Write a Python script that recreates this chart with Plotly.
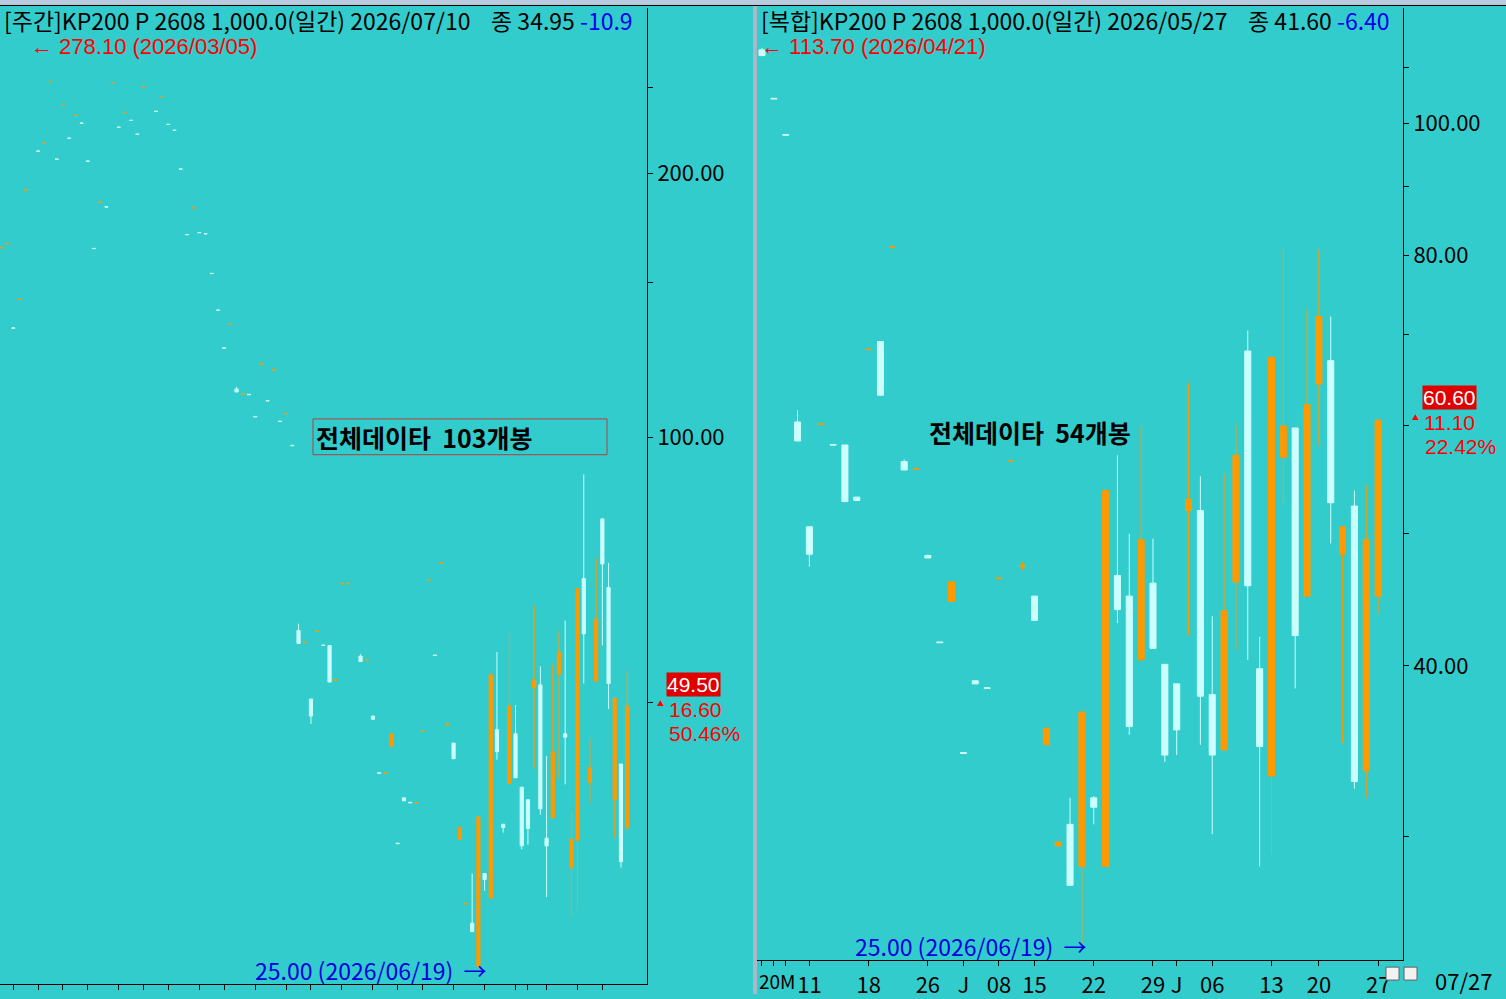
import plotly.graph_objects as go

W, H = 1506, 999
BG = '#33CCCC'
UP = '#FF9900'
DOWN = '#CCFFFF'
FONT = 'Noto Sans CJK KR, Noto Sans, sans-serif'
NUM_FONT = 'Liberation Sans, Arial, sans-serif'

# ---- 주간 (left panel), 102 slots, None = no bar
w_open = [164.4, 166.1, 133.3, 143.6, 191.2, None, 211.9, 216.2, 254.1, 207.5,
          238.7, 219.2, 232.5, 228.0, 206.4, 164.2, 185.3, 183.1, 253.4, 225.6,
          234.4, 229.7, 221.5, 250.8, None, 235.2, 244.4, 227.3, 223.8, 202.2,
          170.3, 182.5, 171.2, 170.7, 153.8, 139.7, 126.5, 134.5, 113.6, 112.0,
          112.0, 105.7, 121.2, 110.2, 119.3, 104.4, 106.4, 98.0, 60.3, 58.45,
          50.4, 60.15, 58.05, 58.0, 52.95, 68.15, 68.15, None, 56.4, 55.75,
          48.2, 41.55, 41.45, 44.5, 34.55, 38.9, 38.45, 38.35, 46.35, 68.85,
          56.55, 71.95, 47.1, 44.9, 34.9, 29.45, 28.0, 25.0, 31.9, 29.9,
          46.5, 36.3, 40.4, 46.0, 40.0, 38.7, 51.9, 52.3, 35.0, 36.9,
          53.8, 46.0, 32.4, 34.8, 69.1, 40.5, 52.8, 80.8, 67.5, 38.7,
          42.5, 36.0]
w_high = [164.5, 166.2, 133.3, 143.7, 191.3, None, 211.9, 216.3, 254.2, 207.5,
          238.8, 219.2, 232.6, 228.0, 206.4, 164.2, 185.4, 183.1, 253.5, 225.6,
          234.5, 229.7, 221.5, 250.9, None, 235.2, 244.5, 227.3, 223.8, 202.2,
          170.3, 182.6, 171.2, 170.7, 153.8, 139.7, 126.5, 134.6, 114.2, 112.1,
          112.0, 105.7, 121.3, 110.2, 119.4, 104.4, 106.5, 98.0, 61.4, 58.5,
          50.4, 60.2, 58.05, 58.0, 53.0, 68.2, 68.2, None, 56.7, 55.8,
          48.2, 41.55, 41.5, 46.0, 34.55, 38.9, 38.45, 38.4, 46.4, 68.9,
          56.55, 72.0, 47.5, 44.9, 36.0, 29.5, 31.9, 37.0, 31.9, 53.9,
          57.0, 36.3, 60.0, 49.6, 40.0, 38.7, 64.4, 54.9, 43.4, 55.2,
          60.2, 61.9, 37.6, 67.3, 90.8, 45.4, 72.9, 81.0, 72.0, 50.5,
          42.5, 54.2]
w_low = [164.4, 166.1, 133.2, 143.6, 191.2, None, 211.8, 216.2, 254.1, 207.4,
         238.7, 219.1, 232.5, 227.9, 206.3, 164.1, 185.3, 183.0, 253.4, 225.5,
         234.4, 229.6, 221.4, 250.8, None, 235.1, 244.4, 227.2, 223.7, 202.1,
         170.2, 182.5, 171.1, 170.6, 153.7, 139.6, 126.4, 134.5, 112.7, 112.0,
         111.9, 105.6, 121.2, 110.1, 119.3, 104.3, 106.4, 97.9, 58.3, 58.45,
         47.2, 60.15, 58.0, 52.7, 52.95, 68.15, 68.15, None, 55.6, 55.75,
         47.8, 41.5, 41.45, 44.5, 34.5, 38.6, 38.4, 38.35, 46.35, 68.85,
         56.5, 71.95, 46.9, 43.1, 34.9, 29.45, 27.4, 25.0, 30.5, 29.9,
         43.0, 35.5, 40.4, 41.0, 34.0, 34.4, 42.0, 37.2, 30.0, 36.9,
         40.9, 40.3, 28.5, 29.0, 52.5, 38.4, 52.8, 58.0, 49.1, 35.0,
         32.4, 35.7]
w_close = [164.5, 166.2, 133.2, 143.7, 191.3, None, 211.8, 216.3, 254.2, 207.4,
           238.8, 219.1, 232.6, 227.9, 206.3, 164.1, 185.4, 183.0, 253.5, 225.5,
           234.5, 229.6, 221.4, 250.9, None, 235.1, 244.5, 227.2, 223.7, 202.1,
           170.2, 182.6, 171.1, 170.6, 153.7, 139.6, 126.4, 134.6, 112.7, 112.1,
           111.9, 105.6, 121.3, 110.1, 119.4, 104.3, 106.5, 97.9, 58.3, 58.5,
           48.2, 60.2, 58.0, 52.7, 53.0, 68.2, 68.2, None, 55.6, 55.8,
           47.8, 41.5, 41.5, 46.0, 34.5, 38.6, 38.4, 38.4, 46.4, 68.9,
           56.5, 72.0, 47.2, 43.1, 36.0, 29.5, 27.4, 37.0, 31.4, 53.7,
           43.9, 36.0, 49.5, 41.0, 34.3, 35.9, 53.0, 37.8, 34.3, 43.9,
           57.0, 45.6, 34.9, 67.3, 59.8, 42.1, 62.1, 71.8, 52.5, 50.5,
           32.9, 49.5]
w_idx = list(range(len(w_open)))
w_ticks = [2, 6, 10, 14, 19, 23, 27, 32, 36, 41, 46, 50, 55, 60, 64, 68, 73, 78, 83, 85, 88, 93, 97]

# ---- 복합 (right panel), 53 daily bars
d_open = [113.3, 104.4, 98.2, 60.4, 50.6, 60.15, 58.15, 58.1, 53.2, 68.25,
          69.2, 81.15, 56.5, 55.75, 48.2, 41.65, 44.6, 34.55, 39.0, 38.55,
          46.35, 56.55, 47.3, 45.0, 35.0, 29.5, 30.6, 28.5, 32.0, 28.5,
          46.6, 45.0, 40.4, 46.0, 40.1, 38.8, 52.0, 52.0, 38.1, 34.7,
          46.1, 68.1, 39.8, 33.2, 56.9, 59.8, 45.0, 64.4, 67.0, 48.3,
          52.4, 33.5, 45.0]
d_high = [113.7, 104.4, 98.2, 61.6, 50.6, 60.2, 58.15, 58.1, 53.2, 68.3,
          69.2, 81.2, 56.7, 55.8, 48.3, 41.65, 46.1, 34.55, 39.0, 38.55,
          46.4, 56.6, 47.7, 45.0, 36.0, 29.7, 32.0, 37.0, 32.1, 54.1,
          57.1, 50.0, 60.0, 49.6, 40.1, 38.8, 64.5, 55.1, 43.5, 55.4,
          60.2, 70.5, 42.0, 67.4, 81.2, 59.8, 73.1, 80.9, 72.2, 50.6,
          53.8, 54.3, 60.6]
d_low = [112.2, 104.3, 98.1, 58.5, 47.3, 60.15, 58.1, 52.8, 52.9, 68.25,
         63.2, 81.15, 55.7, 55.75, 48.0, 41.6, 44.6, 34.5, 38.8, 38.5,
         46.35, 56.55, 47.0, 43.2, 35.0, 29.5, 27.6, 25.0, 30.6, 28.5,
         43.0, 35.6, 40.4, 41.2, 34.0, 34.4, 42.1, 35.0, 30.1, 34.7,
         41.1, 40.4, 28.5, 29.1, 52.6, 38.5, 45.0, 58.0, 49.2, 35.1,
         32.5, 32.0, 43.7]
d_close = [112.2, 104.3, 98.1, 58.5, 48.3, 60.2, 58.1, 52.8, 52.9, 68.3,
           63.2, 81.2, 55.7, 55.8, 48.0, 41.6, 46.1, 34.5, 38.8, 38.5,
           46.4, 56.6, 47.4, 43.2, 36.0, 29.7, 27.6, 37.0, 31.5, 53.8,
           44.0, 36.1, 49.5, 41.2, 34.4, 35.9, 53.0, 38.0, 34.4, 43.9,
           57.1, 45.8, 34.9, 67.4, 60.0, 42.1, 62.2, 72.2, 52.7, 50.6,
           32.9, 49.5, 60.6]
d_idx = list(range(len(d_open)))
d_tickvals = [0, 1, 2, 4, 9, 14, 17, 20, 23, 28, 33, 35, 38, 43, 47, 52]
d_ticktext = ['', '', '', '11', '18', '26', 'J', '08', '15', '22', '29', 'J', '06', '13', '20', '27']


def px(x):
    return x / W


def py(y):
    return 1 - y / H


def candle(x, o, h, l, c, xa, ya):
    return go.Candlestick(
        x=x, open=o, high=h, low=l, close=c, xaxis=xa, yaxis=ya,
        increasing=dict(line=dict(color=UP, width=1), fillcolor=UP),
        decreasing=dict(line=dict(color=DOWN, width=1), fillcolor=DOWN),
        whiskerwidth=0, hoverinfo='skip', showlegend=False,
    )


fig = go.Figure()
fig.add_trace(candle(w_idx, w_open, w_high, w_low, w_close, 'x', 'y'))
fig.add_trace(candle(d_idx, d_open, d_high, d_low, d_close, 'x2', 'y2'))

axis_font = dict(family=FONT, size=22, color='black')

fig.update_layout(
    width=W, height=H,
    margin=dict(l=0, r=0, t=0, b=0),
    paper_bgcolor=BG, plot_bgcolor=BG,
    boxgap=0.27,
    font=dict(family=FONT),
    xaxis=dict(domain=[0, px(647)], range=[-0.15, 104.2], rangeslider=dict(visible=False),
               showgrid=False, zeroline=False, showline=True, linecolor='black', linewidth=1,
               ticks='outside', ticklen=5, tickcolor='black', tickvals=w_ticks,
               showticklabels=False, anchor='y'),
    yaxis=dict(domain=[py(989), py(8)], type='log', range=[1.378, 2.489], side='right',
               anchor='x', showgrid=False, zeroline=False, showline=True, linecolor='black',
               linewidth=1, ticks='outside', ticklen=5, tickcolor='black',
               tickvals=[50, 100, 150, 200, 250], ticktext=['', '100.00', '', '200.00', ''],
               tickfont=axis_font),
    xaxis2=dict(domain=[px(757), px(1403)], range=[-0.42, 54.1], rangeslider=dict(visible=False),
                showgrid=False, zeroline=False, showline=True, linecolor='black', linewidth=1,
                ticks='outside', ticklen=5, tickcolor='black', tickvals=d_tickvals,
                ticktext=d_ticktext, tickfont=axis_font, anchor='y2'),
    yaxis2=dict(domain=[py(965), py(8)], type='log', range=[1.386, 2.085], side='right',
                anchor='x2', showgrid=False, zeroline=False, showline=True, linecolor='black',
                linewidth=1, ticks='outside', ticklen=5, tickcolor='black',
                tickvals=[30, 40, 50, 60, 70, 80, 90, 100, 110],
                ticktext=['', '40.00', '', '', '', '80.00', '', '100.00', ''],
                tickfont=axis_font),
)

# window chrome: toolbar strip, panel separator, corner buttons
fig.add_shape(type='rect', xref='paper', yref='paper', x0=0, x1=1, y0=py(5), y1=1,
              fillcolor='#B8CCE0', line=dict(width=0), layer='above')
fig.add_shape(type='line', xref='paper', yref='paper', x0=0, x1=1, y0=py(5.5), y1=py(5.5),
              line=dict(color='black', width=1), layer='above')
fig.add_shape(type='rect', xref='paper', yref='paper', x0=px(753), x1=px(757), y0=0, y1=py(6),
              fillcolor='#A8B8C8', line=dict(width=0), layer='above')
for bx in (1386, 1404):
    fig.add_shape(type='rect', xref='paper', yref='paper', x0=px(bx), x1=px(bx + 13),
                  y0=py(985), y1=py(972), fillcolor='#F2F2F2', line=dict(color='#606060', width=1))
# box around the left "전체데이타" label
fig.add_shape(type='rect', xref='paper', yref='paper', x0=px(313), x1=px(607), y0=py(457), y1=py(421),
              line=dict(color='#B04040', width=1))


def ann(x, y, text, color='black', size=23, xanchor='left', bg=None, family=FONT):
    fig.add_annotation(x=px(x), y=py(y), xref='paper', yref='paper', text=text, showarrow=False,
                       xanchor=xanchor, yanchor='middle',
                       font=dict(family=family, size=size, color=color),
                       bgcolor=bg, borderpad=0)


NB = '\u00a0'
ann(3, 20, '[주간]KP200 P 2608 1,000.0(일간) 2026/07/10' + NB * 4 + '종 34.95 '
    "<span style='color:#0000EE'>-10.9</span>")
ann(760, 20, '[복합]KP200 P 2608 1,000.0(일간) 2026/05/27' + NB * 4 + '종 41.60 '
    "<span style='color:#0000EE'>-6.40</span>")
ann(30, 47, '←' + NB + '278.10 (2026/03/05)', color='#FF0000', size=22, family=NUM_FONT)
ann(760, 47, '←' + NB + '113.70 (2026/04/21)', color='#FF0000', size=22, family=NUM_FONT)

ann(254, 975, '25.00 (2026/06/19)' + NB * 2 + '→', color='#0000DD')
ann(854, 951, '25.00 (2026/06/19)' + NB * 2 + '→', color='#0000DD')

ann(315, 439, '<b>전체데이타' + NB * 2 + '103개봉</b>', size=25)
ann(928, 434, '<b>전체데이타' + NB * 2 + '54개봉</b>', size=25)

# last price boxes
ann(693, 688, '49.50', color='white', xanchor='center', bg='#E00000', size=21, family=NUM_FONT)
ann(660, 707, '▲', color='#FF0000', size=7, xanchor='center')
ann(668, 713, '16.60', color='#FF0000', size=21, family=NUM_FONT)
ann(668, 737, '50.46%', color='#FF0000', size=21, family=NUM_FONT)

ann(1449, 400, '60.60', color='white', xanchor='center', bg='#E00000', size=21, family=NUM_FONT)
ann(1415, 419, '▲', color='#FF0000', size=7, xanchor='center')
ann(1423, 425, '11.10', color='#FF0000', size=21, family=NUM_FONT)
ann(1424, 449, '22.42%', color='#FF0000', size=21, family=NUM_FONT)

ann(758, 985, '20M', size=19)
ann(1434, 985, '07/27', size=22)

fig.write_html('out.html', config={'displayModeBar': False},
               post_script="document.body.style.margin='0';document.body.style.overflow='hidden';")
